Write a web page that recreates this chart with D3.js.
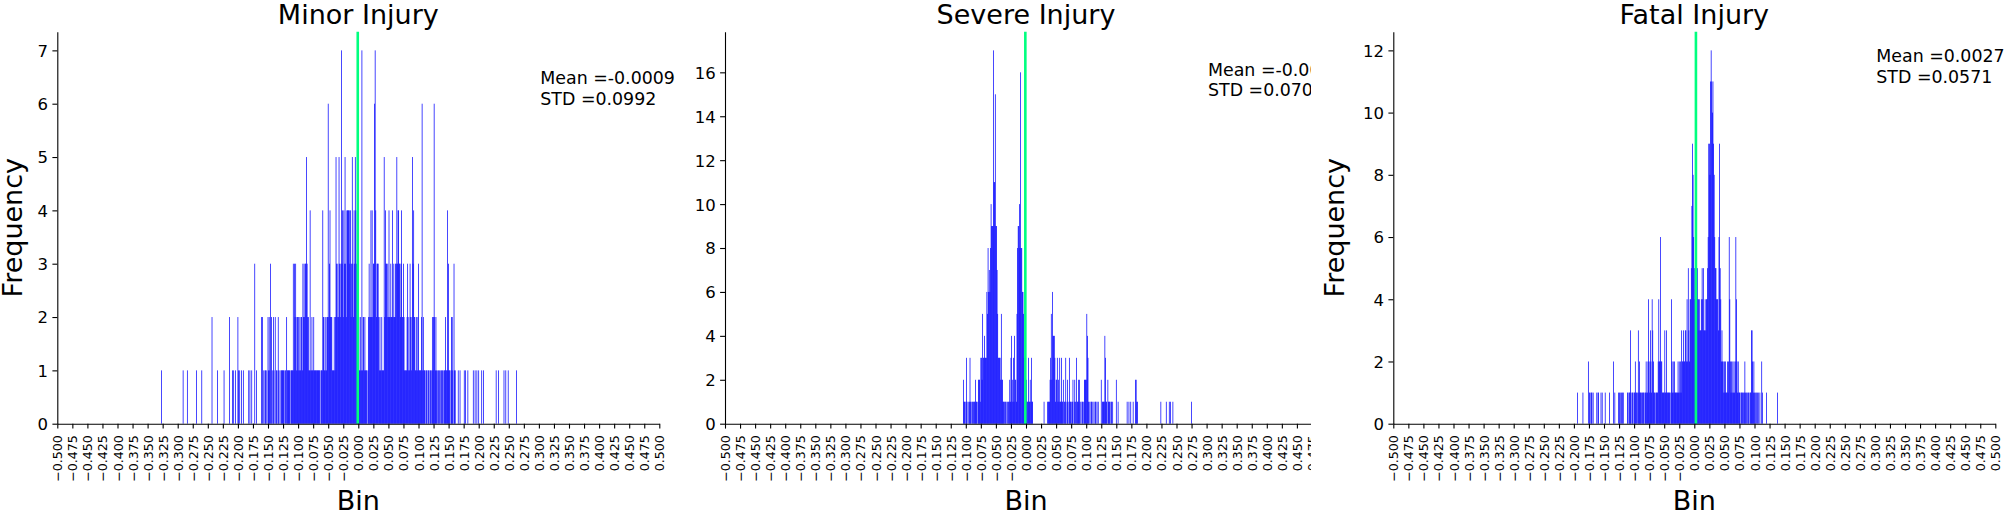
<!DOCTYPE html>
<html><head><meta charset="utf-8">
<script src="https://cdn.jsdelivr.net/npm/d3@7"></script>
<style>
html,body{margin:0;padding:0;background:#fff;}
svg{display:block;}
text{font-family:"DejaVu Sans",sans-serif;fill:#000;}
</style>
</head><body>
<svg id="chart" width="2008" height="512"></svg>
<script>
// ---------------- DATA ----------------
const titles = ["Minor Injury", "Severe Injury", "Fatal Injury"];
const binWidth = 0.001;                       // histogram bin width
const xTickValues = d3.range(-20, 21).map(i => i * 0.025);

// Minor injury: counts per 0.001 bin, first bin at -0.327
const minorStart = -327;
const minorCounts = [
 1,0,0,0,0,0,0,0,0,0, 0,0,0,0,0,0,0,0,0,0, 0,0,0,0,0,0,0,0,0,0,
 0,0,0,0,0,0,1,0,0,0, 0,0,0,1,0,0,0,0,0,0, 0,0,0,0,0,0,0,0,1,0,
 0,0,0,0,0,0,0,1,0,0, 0,0,0,0,0,0,0,0,0,0, 0,0,0,0,2,0,0,0,0,0,
 0,0,0,1,0,0,0,0,0,0, 0,0,0,0,1,0,0,0,0,0, 0,0,0,2,0,0,0,0,1,0,
 1,0,0,1,0,0,0,2,1,0, 1,0,0,1,0,0,1,0,0,0, 0,0,0,0,0,1,0,1,0,0,
 1,0,0,0,0,3,0,0,1,0, 0,0,0,0,0,0,2,0,2,0, 1,0,1,1,0,1,0,2,1,2,
 1,3,0,2,1,0,2,1,0,2, 0,1,1,0,2,1,0,1,0,1, 1,1,1,1,0,1,1,0,2,1,
 1,1,1,1,0,1,1,1,1,3, 1,3,2,3,1,2,2,1,2,1, 2,1,2,2,1,3,2,3,2,3,
 3,5,3,2,2,1,1,4,1,1, 2,1,1,2,1,1,1,1,1,1, 1,1,1,1,0,1,1,1,4,2,
 2,1,1,2,1,2,2,6,2,3, 4,2,2,2,1,1,1,2,1,2, 5,3,2,3,2,5,3,2,3,7,
 3,4,2,4,3,5,3,2,4,4, 4,4,4,3,4,2,3,5,3,2, 4,3,5,4,3,2,2,1,2,1,
 1,2,1,7,1,2,2,1,2,1, 1,1,0,1,2,3,2,2,4,2, 4,2,3,3,6,7,4,2,3,3,
 3,2,1,2,1,1,2,1,1,1, 5,2,4,3,3,2,3,2,4,2, 2,3,2,2,4,2,3,2,2,3,
 3,5,3,4,4,3,3,2,3,4, 2,2,3,2,1,1,1,1,2,3, 1,2,1,3,2,1,2,5,3,4,
 2,2,1,1,2,1,2,3,1,1, 1,1,2,6,1,2,1,1,1,0, 1,1,0,1,1,0,1,1,0,1,
 2,1,2,6,2,1,2,1,0,1, 1,0,1,0,1,1,0,1,1,0, 1,1,2,1,1,4,1,3,1,1,
 0,1,2,2,1,0,3,1,1,0, 0,0,0,1,0,0,1,0,0,0, 0,0,0,1,0,1,0,0,0,1,
 0,0,0,0,0,0,0,0,1,0, 0,1,0,0,1,0,0,1,0,0, 0,0,1,0,0,1,0,0,0,0,
 0,0,0,0,0,0,0,0,0,0, 0,0,0,0,0,0,1,0,0,0, 1,0,0,0,0,0,0,0,0,1,
 0,0,1,0,0,0,1,0,0,0, 0,0,0,0,0,0,0,0,0,0, 1
];
const minorMean = -0.0009, minorStd = 0.0992;

// Severe injury: counts per 0.001 bin, first bin at -0.104
const severeStart = -104;
const severeCounts = [
 2,1,1,0,1,3,1,0,1,0, 1,3,1,0,1,1,0,1,1,1, 2,1,1,0,1,2,2,2,1,3,
 3,2,5,3,3,4,3,3,3,6, 5,8,6,7,6,8,10,9,9,9, 17,11,11,15,9,9,7,5,3,3,
 3,3,2,5,2,2,1,1,1,0, 1,1,0,1,0,1,1,2,1,3, 4,1,2,3,1,4,2,2,1,5,
 8,9,9,10,8,16,8,8,6,6, 5,3,2,1,1,2,1,1,3,1, 1,2,1,3,1,1,0,0,0,0,
 0,0,0,0,0,0,0,0,0,0, 0,0,0,0,1,0,0,0,0,0, 1,1,1,1,2,3,5,2,6,4,
 4,4,3,1,2,2,3,1,2,1, 3,1,1,3,1,1,2,0,1,1, 3,0,1,2,1,0,3,1,1,0,
 1,1,2,0,1,2,1,0,3,1, 1,2,1,2,0,1,0,1,1,0, 1,2,2,2,2,5,4,3,1,0,
 1,0,1,1,0,1,0,1,0,1, 1,0,1,0,1,0,0,0,0,2, 0,1,1,1,1,4,3,1,1,0,
 2,1,1,1,0,1,1,0,1,0, 0,0,0,0,2,0,0,1,0,0, 0,0,0,0,0,0,0,0,0,0,
 0,0,1,0,0,1,0,0,1,0, 0,0,1,0,0,0,2,2,1,1, 0,0,0,0,0,0,0,0,0,0,
 0,0,0,0,0,0,0,0,0,0, 0,0,0,0,0,0,0,0,0,0, 0,0,0,0,0,0,0,0,1,0,
 0,0,0,0,0,0,0,1,0,0, 0,0,1,0,1,0,0,0,1,0, 0,0,0,0,0,0,0,0,0,0,
 0,0,0,0,0,0,0,0,0,0, 0,0,0,0,0,0,0,0,0,1
];
const severeMean = -0.0011, severeStd = 0.0704;

// Fatal injury: counts per 0.001 bin, first bin at -0.194
const fatalStart = -194;
const fatalCounts = [
 1,0,0,0,0,0,0,0,0,1, 0,0,0,0,0,0,0,0,2,0, 1,1,0,1,1,0,1,0,0,0,
 0,0,1,0,1,1,0,0,0,1, 0,1,0,0,0,0,1,0,0,0, 0,0,0,1,0,0,0,0,0,0,
 2,0,1,0,0,0,0,0,1,0, 1,1,0,1,0,1,1,0,0,0, 0,0,0,1,1,0,1,1,3,1,
 0,1,1,0,1,1,2,1,1,0, 1,3,1,2,1,1,1,0,1,1, 1,0,1,1,2,1,1,2,4,2,
 1,3,2,1,4,3,2,1,1,0, 1,1,1,1,2,4,2,2,6,2, 2,1,1,1,1,3,1,1,3,1,
 1,1,1,1,0,1,4,2,1,2, 1,2,1,1,1,1,1,2,1,2, 1,2,1,3,2,2,3,2,2,3,
 3,2,4,2,5,3,2,4,4,5, 7,9,8,6,5,4,3,4,5,5, 4,4,3,4,3,3,4,5,4,5,
 3,3,4,3,4,4,5,6,9,9, 8,11,12,11,10,11,9,8,6,5, 5,4,4,4,3,6,9,5,4,2,
 3,2,2,1,2,1,2,1,1,2, 1,2,6,4,2,1,2,1,2,1, 2,1,2,6,4,2,1,2,1,1,
 1,0,1,1,1,0,1,1,2,1, 0,1,1,0,1,1,0,1,1,3, 3,2,1,2,1,0,1,1,0,1,
 0,1,0,1,0,0,2,1,0,0, 0,0,0,0,1,0,0,0,0,0, 0,0,0,0,0,0,0,0,0,0,
 0,0,1
];
const fatalMean = 0.0027, fatalStd = 0.0571;

// ---------------- LAYOUT ----------------
const W = 2008, H = 512;
const axTop = 31.7, axBottom = 423.7, axW = 602;
const layout = [
  {left: 57.3,   textBase: 84,   clipL: 0,    clipR: 678,  ylabelX: 22},
  {left: 725,    textBase: 75.5, clipL: 678,  clipR: 1311, ylabelX: null},
  {left: 1393.3, textBase: 62,   clipL: 1311, clipR: 2008, ylabelX: 1344}
];
const series = [
  {start: minorStart,  counts: minorCounts,  mean: minorMean,  std: minorStd,  ystep: 1},
  {start: severeStart, counts: severeCounts, mean: severeMean, std: severeStd, ystep: 2},
  {start: fatalStart,  counts: fatalCounts,  mean: fatalMean,  std: fatalStd,  ystep: 2}
];

const svg = d3.select("#chart");
const defs = svg.append("defs");

series.forEach((s, k) => {
  const L = layout[k];
  defs.append("clipPath").attr("id", "clip" + k)
    .append("rect").attr("x", L.clipL).attr("y", 0)
    .attr("width", L.clipR - L.clipL).attr("height", H);

  const g = svg.append("g").attr("clip-path", `url(#clip${k})`);

  const ymaxData = d3.max(s.counts);
  const x = d3.scaleLinear().domain([-0.5, 0.5]).range([L.left, L.left + axW]);
  const y = d3.scaleLinear().domain([0, ymaxData * 1.05]).range([axBottom, axTop]);

  const bars = s.counts.map((c, i) => ({v: (s.start + i) * binWidth, c}))
                       .filter(d => d.c > 0);
  const bw = (x(binWidth) - x(0)) * 1.2;

  g.append("g").selectAll("rect").data(bars).join("rect")
    .attr("x", d => x(d.v) - bw / 2)
    .attr("width", bw)
    .attr("y", d => y(d.c))
    .attr("height", d => y(0) - y(d.c))
    .attr("fill", "#0000ff");

  // mean line
  g.append("line")
    .attr("x1", x(s.mean)).attr("x2", x(s.mean))
    .attr("y1", axTop).attr("y2", axBottom)
    .attr("stroke", "#00ff7f").attr("stroke-width", 2.6);

  // x axis
  const xAxis = d3.axisBottom(x).tickValues(xTickValues)
    .tickFormat(d3.format(".3f")).tickSize(4.9).tickSizeOuter(0);
  const gx = g.append("g").attr("transform", `translate(0,${axBottom})`).call(xAxis);
  gx.select(".domain").attr("stroke", "#000").attr("stroke-width", 1.1);
  gx.selectAll(".tick line").attr("stroke", "#000").attr("stroke-width", 1.1);
  gx.selectAll(".tick text")
    .attr("transform", "rotate(-90)")
    .attr("x", -11.5).attr("y", 0).attr("dy", "0.36em")
    .attr("text-anchor", "end")
    .style("font-size", "12.6px")
    .style("font-family", '"DejaVu Sans", sans-serif')
    .attr("fill", "#000");

  // y axis
  const yTicks = d3.range(0, ymaxData + 0.001, s.ystep);
  const yAxis = d3.axisLeft(y).tickValues(yTicks).tickFormat(d3.format("d"))
    .tickSize(4.9).tickSizeOuter(0);
  const gy = g.append("g").attr("transform", `translate(${L.left},0)`).call(yAxis);
  gy.select(".domain").attr("stroke", "#000").attr("stroke-width", 1.1);
  gy.selectAll(".tick line").attr("stroke", "#000").attr("stroke-width", 1.1);
  gy.selectAll(".tick text")
    .attr("x", -9.3).attr("dy", "0.36em")
    .style("font-size", "16.5px")
    .style("font-family", '"DejaVu Sans", sans-serif')
    .attr("fill", "#000");

  const cx = L.left + axW / 2;
  g.append("text").attr("x", cx).attr("y", 23.5)
    .attr("text-anchor", "middle").style("font-size", "27px").text(titles[k]);
  g.append("text").attr("x", cx).attr("y", 509.5)
    .attr("text-anchor", "middle").style("font-size", "27px").text("Bin");
  if (L.ylabelX !== null) {
    g.append("text")
      .attr("transform", `translate(${L.ylabelX},${(axTop + axBottom) / 2}) rotate(-90)`)
      .attr("text-anchor", "middle").style("font-size", "27px").text("Frequency");
  }
  const tx = L.left + 483;
  g.append("text").attr("x", tx).attr("y", L.textBase)
    .style("font-size", "17.4px").text("Mean =" + s.mean.toFixed(4));
  g.append("text").attr("x", tx).attr("y", L.textBase + 20.5)
    .style("font-size", "17.4px").text("STD =" + s.std.toFixed(4));
});
</script>
</body></html>
